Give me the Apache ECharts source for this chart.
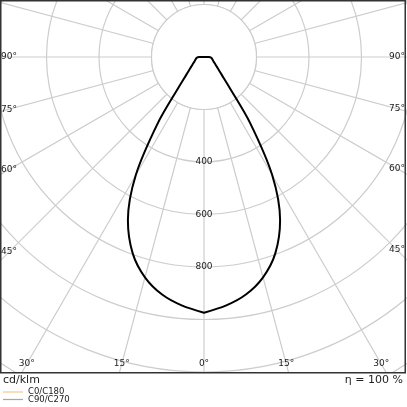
<!DOCTYPE html>
<html>
<head>
<meta charset="utf-8">
<script src="https://cdn.jsdelivr.net/npm/echarts@6/dist/echarts.min.js"></script>
<style>
html, body { margin: 0; padding: 0; background: #fff; }
#ldc { width: 407px; height: 407px; }
</style>
</head>
<body>
<div id="ldc"></div>
<script>
// gamma angle from nadir (deg) and luminous intensity (cd/klm), symmetric
var gammaAngles = [0, 5, 10, 15, 20, 25, 30, 35, 40, 45, 50, 55, 60, 65, 70, 75, 80, 85, 90, 180];
var intensities = [974, 951, 919, 869, 795, 686, 520, 305, 150, 95, 70, 56, 47, 40, 36, 33, 30, 27, 20, 0];

var ringLabels = [400, 600, 800];
var angleLabels = [0, 15, 30, 45, 60, 75, 90];
var legendNames = ['C0/C180', 'C90/C270'];
var legendColors = ['#f6c888', '#a6a6a6'];

var center = [204, 57];
var pxPerUnit = 52.5 / 200;   // 200 cd/klm per ring
var maxValue = 1600;
var gridColor = '#cdcdcd';
var font = 'DejaVu Sans';

var ldc = echarts.init(document.getElementById('ldc'));

// full loop: one side then the mirrored side
var curve = [];
for (var i = 0; i < gammaAngles.length; i++) {
	curve.push([intensities[i], gammaAngles[i]]);
}
for (var j = gammaAngles.length - 2; j >= 0; j--) {
	curve.push([intensities[j], 360 - gammaAngles[j]]);
}

// angle labels sit where each ray meets a box just inside the frame
function angleLabelPos(deg, side) {
	var a = deg * Math.PI / 180;
	var dx = side * Math.sin(a), dy = Math.cos(a);
	var t = Infinity;
	if (dx > 1e-6) t = Math.min(t, (397 - center[0]) / dx);
	if (dx < -1e-6) t = Math.min(t, (9 - center[0]) / dx);
	if (dy > 1e-6) t = Math.min(t, (364 - center[1]) / dy);
	return [center[0] + t * dx, center[1] + t * dy];
}

var graphics = [];
// blank disc in the middle, the rays start at the first ring
graphics.push({
	type: 'circle', z: 5,
	shape: { cx: center[0], cy: center[1], r: 200 * pxPerUnit },
	style: { fill: '#fff', stroke: gridColor, lineWidth: 1.2 }
});
graphics.push({
	type: 'rect', z: 100,
	shape: { x: 0, y: 373, width: 407, height: 40 },
	style: { fill: '#fff' }
});
graphics.push({
	type: 'rect', z: 101,
	shape: { x: 0.75, y: 0.75, width: 404.5, height: 372 },
	style: { fill: null, stroke: '#333', lineWidth: 1.5 }
});
angleLabels.forEach(function (deg) {
	var sides = deg === 0 ? [1] : [-1, 1];
	sides.forEach(function (s) {
		var p = angleLabelPos(deg, s);
		graphics.push({
			type: 'text', z: 102, x: p[0], y: p[1],
			style: { text: deg + '°', font: '9px "' + font + '"', fill: '#222', align: 'center', verticalAlign: 'middle' }
		});
	});
});
graphics.push({
	type: 'text', z: 102, x: 3, y: 380,
	style: { text: 'cd/klm', font: '11px "' + font + '"', fill: '#222', align: 'left', verticalAlign: 'middle' }
});
graphics.push({
	type: 'text', z: 102, x: 403, y: 380,
	style: { text: 'η = 100 %', font: '11px "' + font + '"', fill: '#222', align: 'right', verticalAlign: 'middle' }
});
legendNames.forEach(function (name, k) {
	var y = 392 + k * 7.5;
	graphics.push({
		type: 'line', z: 102,
		shape: { x1: 3, y1: y, x2: 23, y2: y },
		style: { stroke: legendColors[k], lineWidth: 1.2 }
	});
	graphics.push({
		type: 'text', z: 102, x: 28, y: y,
		style: { text: name, font: '8.5px "' + font + '"', fill: '#222', align: 'left', verticalAlign: 'middle' }
	});
});

var option = {
	animation: false,
	polar: {
		center: center,
		radius: [0, maxValue * pxPerUnit]
	},
	angleAxis: {
		type: 'value',
		min: 0,
		max: 360,
		interval: 15,
		startAngle: -90,
		clockwise: true,
		axisLine: { show: false },
		axisTick: { show: false },
		axisLabel: { show: false },
		splitLine: { lineStyle: { color: gridColor, width: 1.2 } }
	},
	radiusAxis: {
		type: 'value',
		min: 0,
		max: maxValue,
		interval: 200,
		axisLine: { show: false },
		axisTick: { show: false },
		axisLabel: {
			margin: 0,
			align: 'center',
			verticalAlign: 'middle',
			fontFamily: font,
			fontSize: 9,
			color: '#222',
			formatter: function (v) { return ringLabels.indexOf(v) >= 0 ? String(v) : ''; }
		},
		splitLine: { lineStyle: { color: gridColor, width: 1.2 } }
	},
	series: [
		{
			name: legendNames[0],
			type: 'line',
			coordinateSystem: 'polar',
			data: curve,
			showSymbol: false,
			smooth: 0.3,
			clip: false,
			lineStyle: { color: '#000', width: 2, join: 'round', cap: 'round' },
			z: 10
		}
	],
	graphic: graphics
};
ldc.setOption(option);
</script>
</body>
</html>
